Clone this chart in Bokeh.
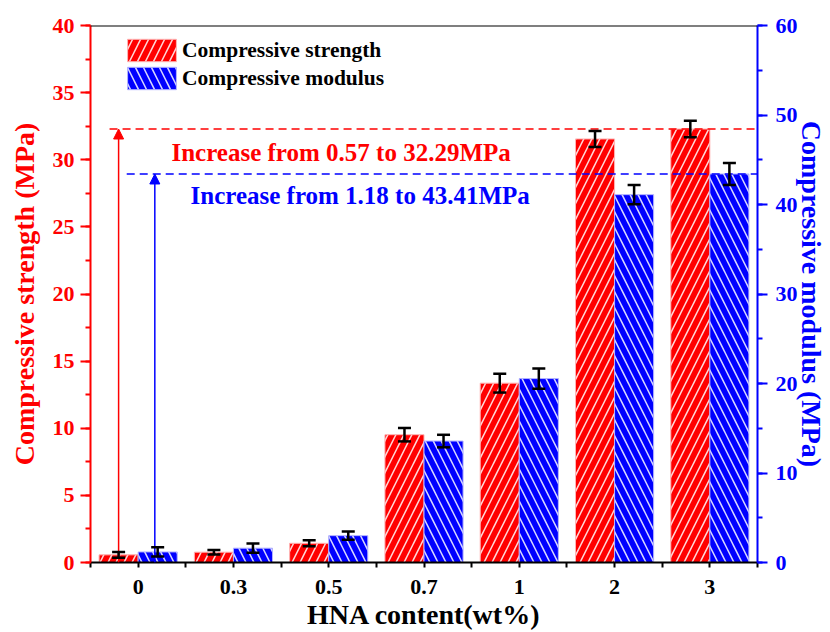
from bokeh.plotting import figure
from bokeh.models import (Range1d, LinearAxis, SingleIntervalTicker, FixedTicker, ColumnDataSource,
                          Whisker, TeeHead, Arrow, NormalHead, Label, Legend, LegendItem, Span)
from bokeh.transform import dodge
from bokeh.embed import file_html
from bokeh.resources import INLINE

# ---- data ----
categories = ["0", "0.3", "0.5", "0.7", "1", "2", "3"]
strength = [0.57, 0.77, 1.43, 9.52, 13.36, 31.55, 32.29]
strength_err = [0.22, 0.17, 0.22, 0.50, 0.70, 0.60, 0.62]
modulus = [1.18, 1.60, 3.00, 13.57, 20.55, 41.10, 43.41]
modulus_err = [0.52, 0.52, 0.45, 0.70, 1.13, 1.08, 1.23]
strength_ticks_major = 5
modulus_ticks_major = 10

RED = "#FF0000"
BLUE = "#0000FF"
FONT = "'Liberation Serif'"
OFF = 0.205
BW = 0.41

pos = list(range(len(categories)))
src = ColumnDataSource(dict(
    x=pos,
    strength=strength,
    modulus=modulus,
    s_up=[v + e for v, e in zip(strength, strength_err)],
    s_lo=[v - e for v, e in zip(strength, strength_err)],
    m_up=[v + e for v, e in zip(modulus, modulus_err)],
    m_lo=[v - e for v, e in zip(modulus, modulus_err)],
))

p = figure(width=830, height=632, x_range=Range1d(-0.5, len(categories) - 0.5),
           y_range=Range1d(0, 40), output_backend="svg", toolbar_location=None,
           min_border_left=90, min_border_right=73, min_border_top=25, min_border_bottom=69)
p.extra_y_ranges = {"mod": Range1d(0, 60)}
p.xgrid.visible = False
p.ygrid.visible = False
p.outline_line_color = None
p.background_fill_color = "white"
p.border_fill_color = "white"

# bars
r1 = p.vbar(x=dodge("x", -OFF, range=p.x_range), top="strength", width=BW, source=src,
            fill_color=RED, line_color="#ffb3b3", line_width=1,
            hatch_pattern="/", hatch_color="white", hatch_alpha=0.85, hatch_scale=16, hatch_weight=1.5)
r2 = p.vbar(x=dodge("x", OFF, range=p.x_range), top="modulus", width=BW, source=src,
            y_range_name="mod",
            fill_color=BLUE, line_color="#b3b3ff", line_width=1,
            hatch_pattern="\\", hatch_color="white", hatch_alpha=0.85, hatch_scale=16, hatch_weight=1.5)

# error bars
for base_off, up, lo, rng in [(-OFF, "s_up", "s_lo", "default"), (OFF, "m_up", "m_lo", "mod")]:
    w = Whisker(source=src, base=dodge("x", base_off, range=p.x_range), upper=up, lower=lo,
                line_color="black", line_width=2.5, level="overlay",
                upper_head=TeeHead(size=13, line_color="black", line_width=2.5),
                lower_head=TeeHead(size=13, line_color="black", line_width=2.5))
    if rng != "default":
        w.y_range_name = rng
    p.add_layout(w)

# dashed reference lines
p.segment(x0=[pos[0] - 0.3], y0=[strength[-1]], x1=[pos[-1] + 0.5], y1=[strength[-1]],
          line_color=RED, line_dash="8 5", line_width=1.5)
p.segment(x0=[pos[0] - 0.12], y0=[modulus[-1]], x1=[pos[-1] + 0.5], y1=[modulus[-1]],
          line_color=BLUE, line_dash="8 5", line_width=1.5, y_range_name="mod")

# arrows
p.add_layout(Arrow(end=NormalHead(size=10, fill_color=RED, line_color=RED),
                   x_start=pos[0] - OFF, y_start=0, x_end=pos[0] - OFF, y_end=strength[-1],
                   line_color=RED, line_width=1.5))
p.add_layout(Arrow(end=NormalHead(size=10, fill_color=BLUE, line_color=BLUE),
                   x_start=pos[0] + OFF - 0.03, y_start=0, x_end=pos[0] + OFF - 0.03, y_end=modulus[-1],
                   line_color=BLUE, line_width=1.5, y_range_name="mod"))

# annotation texts
p.add_layout(Label(x=2.13, y=30.56, text=f"Increase from {strength[0]:.2f} to {strength[-1]:.2f}MPa",
                   text_color=RED, text_font=FONT, text_font_style="bold", text_font_size="25px",
                   text_align="center", text_baseline="middle"))
p.add_layout(Label(x=2.33, y=27.36, text=f"Increase from {modulus[0]:.2f} to {modulus[-1]:.2f}MPa",
                   text_color=BLUE, text_font=FONT, text_font_style="bold", text_font_size="25px",
                   text_align="center", text_baseline="middle"))


def style_common(ax, color, tick_out, minor_out, lab_standoff, title, title_standoff):
    ax.axis_line_color = color
    ax.axis_line_width = 2
    ax.major_tick_line_color = color
    ax.major_tick_line_width = 2
    ax.minor_tick_line_color = color
    ax.minor_tick_line_width = 2
    ax.major_tick_in = 0
    ax.major_tick_out = tick_out
    ax.minor_tick_in = 0
    ax.minor_tick_out = minor_out
    ax.major_label_text_font = FONT
    ax.major_label_text_font_style = "bold"
    ax.major_label_text_font_size = "22px"
    ax.major_label_text_color = color
    ax.major_label_text_line_height = 1.0
    ax.major_label_standoff = lab_standoff
    ax.axis_label = title
    ax.axis_label_text_font = FONT
    ax.axis_label_text_font_style = "bold"
    ax.axis_label_text_font_size = "28px"
    ax.axis_label_text_color = color
    ax.axis_label_text_line_height = 1.0
    ax.axis_label_standoff = title_standoff


# x axis
xa = p.xaxis[0]
xa.ticker = FixedTicker(ticks=pos, minor_ticks=[i - 0.5 for i in range(len(categories) + 1)])
xa.major_label_overrides = {i: c for i, c in enumerate(categories)}
style_common(xa, "black", 5, 5, 12, "HNA content(wt%)", 2)

# left y axis
ya = p.yaxis[0]
ya.ticker = SingleIntervalTicker(interval=strength_ticks_major, num_minor_ticks=2)
style_common(ya, RED, 10, 5, 6, "Compressive strength (MPa)", 10)

# right y axis
ra = LinearAxis(y_range_name="mod",
                ticker=SingleIntervalTicker(interval=modulus_ticks_major, num_minor_ticks=2))
style_common(ra, BLUE, 10, 5, 8, "Compressive modulus (MPa)", -5)
p.add_layout(ra, "right")

# top border line
p.add_layout(Span(location=40, dimension="width", line_color="black", line_width=2))

# legend
legend = Legend(items=[LegendItem(label="Compressive strength", renderers=[r1]),
                       LegendItem(label="Compressive modulus", renderers=[r2])],
                location=(31, 470), glyph_width=61, glyph_height=28, spacing=0,
                padding=0, margin=0, border_line_color=None, background_fill_alpha=0,
                label_text_font=FONT, label_text_font_style="bold", label_text_font_size="21.5px",
                label_text_color="black", label_standoff=0)
p.add_layout(legend)

open("out.html", "w").write(file_html(p, INLINE))
